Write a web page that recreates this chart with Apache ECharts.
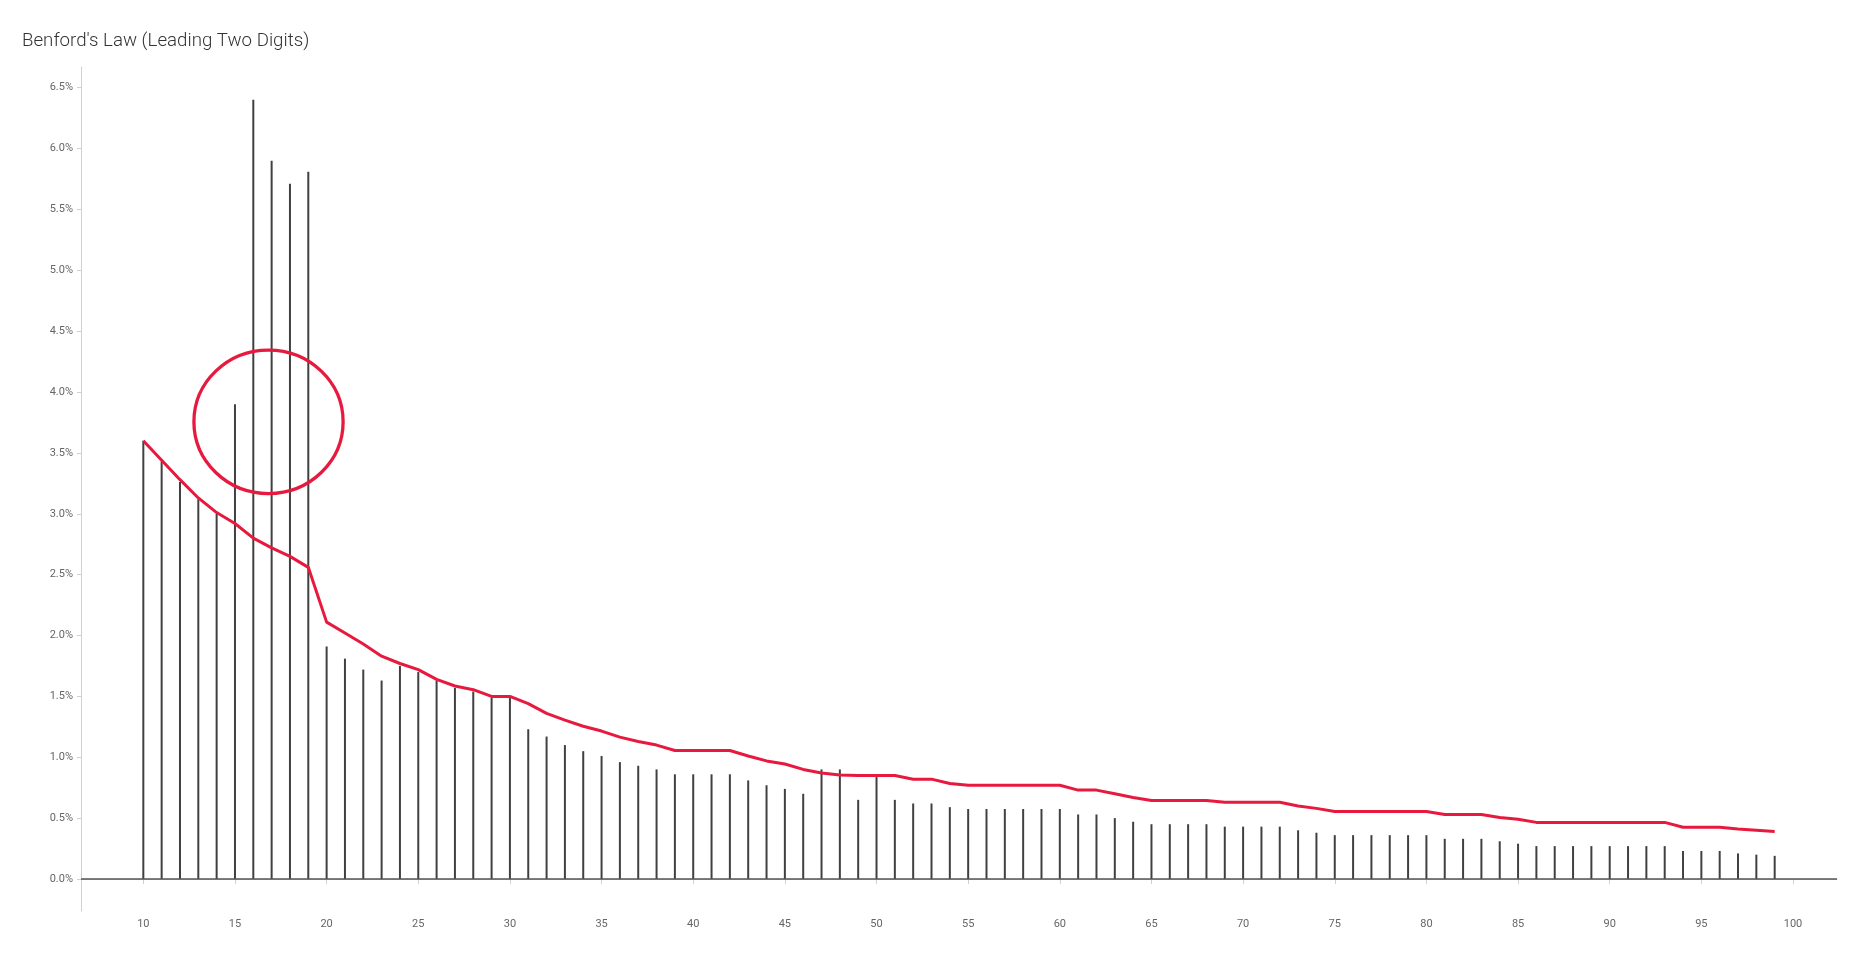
<!DOCTYPE html>
<html>
<head>
<meta charset="utf-8">
<script src="https://cdn.jsdelivr.net/npm/echarts@6/dist/echarts.min.js"></script>
<style>
html,body{margin:0;padding:0;background:#fff;}
#chart{width:1875px;height:960px;}
</style>
</head>
<body>
<div id="chart"></div>
<script>
const titleText = "Benford's Law (Leading Two Digits)";
const digits = [10,11,12,13,14,15,16,17,18,19,20,21,22,23,24,25,26,27,28,29,30,31,32,33,34,35,36,37,38,39,40,41,42,43,44,45,46,47,48,49,50,51,52,53,54,55,56,57,58,59,60,61,62,63,64,65,66,67,68,69,70,71,72,73,74,75,76,77,78,79,80,81,82,83,84,85,86,87,88,89,90,91,92,93,94,95,96,97,98,99];
const observed = [3.60,3.43,3.26,3.12,3.00,3.90,6.40,5.90,5.71,5.81,
  1.91,1.81,1.72,1.63,1.75,1.70,1.63,1.57,1.54,1.49,
  1.49,1.23,1.17,1.10,1.05,1.01,0.96,0.93,0.90,0.86,
  0.86,0.86,0.86,0.81,0.77,0.74,0.70,0.90,0.90,0.65,
  0.84,0.65,0.62,0.62,0.59,0.575,0.575,0.575,0.575,0.575,
  0.575,0.53,0.53,0.50,0.47,0.45,0.45,0.45,0.45,0.43,
  0.43,0.43,0.43,0.40,0.38,0.36,0.36,0.36,0.36,0.36,
  0.36,0.33,0.33,0.33,0.31,0.29,0.27,0.27,0.27,0.27,
  0.27,0.27,0.27,0.27,0.23,0.23,0.23,0.21,0.20,0.19];
const expected = [3.60,3.44,3.28,3.13,3.01,2.92,2.80,2.72,2.65,2.56,
  2.11,2.02,1.93,1.83,1.77,1.72,1.64,1.585,1.555,1.50,
  1.50,1.44,1.36,1.305,1.255,1.215,1.165,1.13,1.10,1.055,
  1.055,1.055,1.055,1.01,0.97,0.945,0.90,0.87,0.855,0.85,
  0.85,0.85,0.82,0.82,0.785,0.77,0.77,0.77,0.77,0.77,
  0.77,0.73,0.73,0.70,0.67,0.645,0.645,0.645,0.645,0.63,
  0.63,0.63,0.63,0.60,0.58,0.555,0.555,0.555,0.555,0.555,
  0.555,0.53,0.53,0.53,0.505,0.49,0.465,0.465,0.465,0.465,
  0.465,0.465,0.465,0.465,0.425,0.425,0.425,0.41,0.40,0.39];
const xTickValues = [10,15,20,25,30,35,40,45,50,55,60,65,70,75,80,85,90,95,100];
const yTickValues = [0,0.5,1,1.5,2,2.5,3,3.5,4,4.5,5,5.5,6,6.5];
const highlightCenter = [16.83, 3.755];
const highlightRadius = [4.07, 0.589];

const chart = echarts.init(document.getElementById('chart'));
const axisColor = '#cdd0da';
const labelStyle = {color:'#666', fontSize:11, fontFamily:'Roboto, sans-serif'};
chart.setOption({
  animation:false,
  backgroundColor:'#fff',
  title:{text:titleText,left:17,top:27,textStyle:{fontFamily:'Roboto, sans-serif',fontWeight:300,fontSize:18.7,color:'#333'}},
  grid:{left:81,right:38,top:67,bottom:49,containLabel:false},
  xAxis:{type:'value',min:6.6,max:102.4,
    axisLine:{show:true,lineStyle:{color:axisColor,width:1}},
    axisTick:{show:true,customValues:xTickValues,length:5,lineStyle:{color:axisColor}},
    axisLabel:{customValues:xTickValues,margin:8,...labelStyle},
    splitLine:{show:false}},
  yAxis:{type:'value',min:-0.263,max:6.67,
    axisLine:{show:true,lineStyle:{color:axisColor,width:1}},
    axisTick:{show:true,customValues:yTickValues,length:4,lineStyle:{color:axisColor}},
    axisLabel:{customValues:yTickValues,margin:8,formatter:v=>v.toFixed(1)+'%',...labelStyle},
    splitLine:{show:false}},
  series:[
    {type:'bar',name:'Observed',barWidth:2,data:digits.map((d,i)=>[d,observed[i]]),
     itemStyle:{color:'#404040'},z:2,
     markLine:{silent:true,symbol:['none','none'],label:{show:false},
       lineStyle:{color:'#555',width:1.5,type:'solid'},data:[{yAxis:0}]}},
    {type:'line',name:'Benford',data:digits.map((d,i)=>[d,expected[i]]),
     showSymbol:false,lineStyle:{color:'#e8193e',width:3},itemStyle:{color:'#e8193e'},z:3}
  ]
});
const c = chart.convertToPixel({gridIndex:0}, highlightCenter);
const e = chart.convertToPixel({gridIndex:0}, [highlightCenter[0]+highlightRadius[0], highlightCenter[1]+highlightRadius[1]]);
chart.setOption({graphic:[{type:'ellipse',shape:{cx:c[0],cy:c[1],rx:Math.abs(e[0]-c[0]),ry:Math.abs(c[1]-e[1])},
  style:{fill:'none',stroke:'#e8193e',lineWidth:3.3},z:100}]});
</script>
</body>
</html>
